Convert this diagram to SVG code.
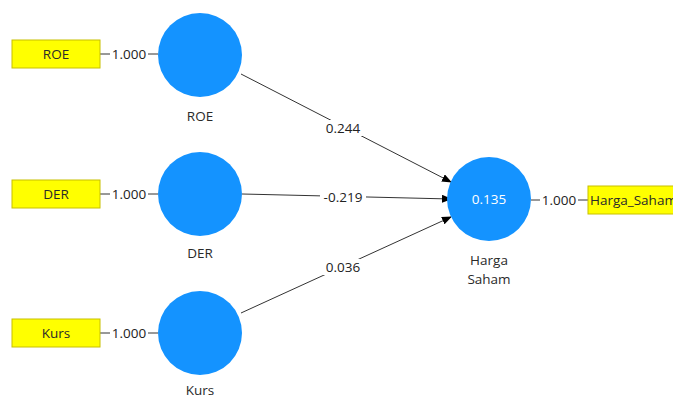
<svg xmlns="http://www.w3.org/2000/svg" width="673" height="398" viewBox="0 0 673 398">
<defs>
<marker id="ah" markerWidth="10" markerHeight="8" refX="9" refY="4" orient="auto" markerUnits="userSpaceOnUse">
<path d="M0,0 L10,4 L0,8 Z" fill="#000"/>
</marker>
</defs>
<style>
.lv{fill:#1493ff;}
.ind{fill:#ffff00;stroke:#c8c000;stroke-width:1;}
text{font-family:"Open Sans","Noto Sans",sans-serif;font-size:13.5px;fill:#2a2a2a;}
.w{fill:#fff;}
.lbl{fill:#222;}
.ln{stroke:#333;stroke-width:1;fill:none;}
.bg{fill:#fff;}
</style>
<rect width="673" height="398" fill="#fff"/>
<g id="connectors">
<line class="ln" x1="100" y1="54" x2="158" y2="54"/>
<line class="ln" x1="100" y1="194" x2="158" y2="194"/>
<line class="ln" x1="100" y1="333" x2="158" y2="333"/>
<line class="ln" x1="531" y1="200" x2="588" y2="200"/>
<line class="ln" x1="241" y1="74" x2="451" y2="182" marker-end="url(#ah)"/>
<line class="ln" x1="242" y1="194" x2="451" y2="199" marker-end="url(#ah)"/>
<line class="ln" x1="241" y1="313" x2="451" y2="217" marker-end="url(#ah)"/>
<rect class="bg" x="110" y="46" width="38" height="16"/>
<rect class="bg" x="110" y="186" width="38" height="16"/>
<rect class="bg" x="110" y="325" width="38" height="16"/>
<rect class="bg" x="540" y="192" width="38" height="16"/>
<rect class="bg" x="322" y="120" width="42" height="16"/>
<rect class="bg" x="320" y="189" width="46" height="16"/>
<rect class="bg" x="322" y="259" width="42" height="16"/>
<text class="lbl" x="129" y="59" text-anchor="middle">1.000</text>
<text class="lbl" x="129" y="199" text-anchor="middle">1.000</text>
<text class="lbl" x="129" y="338" text-anchor="middle">1.000</text>
<text class="lbl" x="559" y="205" text-anchor="middle">1.000</text>
<text class="lbl" x="343" y="133" text-anchor="middle">0.244</text>
<text class="lbl" x="343" y="202" text-anchor="middle">-0.219</text>
<text class="lbl" x="343" y="272" text-anchor="middle">0.036</text>
</g>
<g id="ROE_ind">
<rect class="ind" x="12" y="40" width="88" height="28"/>
<text x="56" y="59" text-anchor="middle">ROE</text>
</g>
<g id="DER_ind">
<rect class="ind" x="12" y="180" width="88" height="28"/>
<text x="56" y="199" text-anchor="middle">DER</text>
</g>
<g id="Kurs_ind">
<rect class="ind" x="12" y="319" width="88" height="28"/>
<text x="56" y="338" text-anchor="middle">Kurs</text>
</g>
<g id="HargaSaham_ind">
<rect class="ind" x="588" y="186" width="90" height="28"/>
<text x="590" y="205">Harga_Saham</text>
</g>
<g id="ROE">
<circle class="lv" cx="200" cy="55" r="42"/>
<text x="200" y="121" text-anchor="middle">ROE</text>
</g>
<g id="DER">
<circle class="lv" cx="200" cy="194" r="42"/>
<text x="200" y="258" text-anchor="middle">DER</text>
</g>
<g id="Kurs">
<circle class="lv" cx="200" cy="333" r="42"/>
<text x="200" y="395" text-anchor="middle">Kurs</text>
</g>
<g id="HargaSaham">
<circle class="lv" cx="489" cy="199" r="42"/>
<text class="w" x="489" y="204" text-anchor="middle">0.135</text>
<text x="489" y="265" text-anchor="middle">Harga</text>
<text x="489" y="284" text-anchor="middle">Saham</text>
</g>
</svg>
